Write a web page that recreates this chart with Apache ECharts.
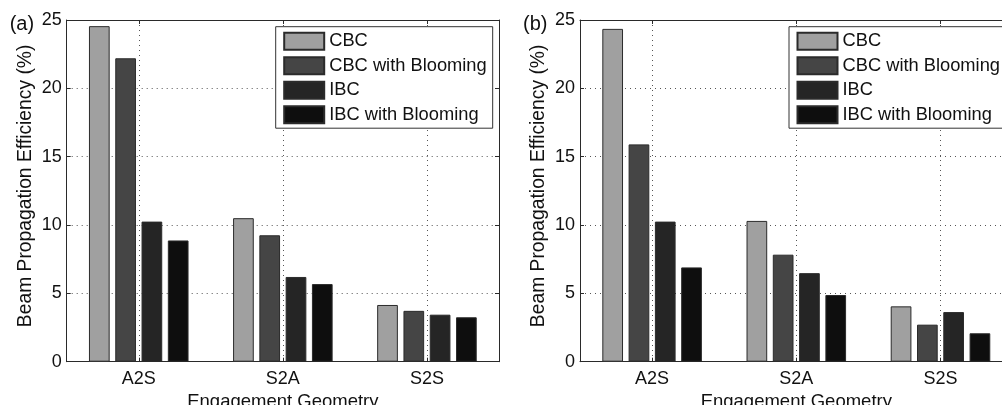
<!DOCTYPE html>
<html>
<head>
<meta charset="utf-8">
<script src="https://cdn.jsdelivr.net/npm/echarts@6/dist/echarts.min.js"></script>
<style>
html,body{margin:0;padding:0;background:#fff;}
#chart{width:1002px;height:405px;}
</style>
</head>
<body>
<div id="chart"></div>
<script>
var categories = ['A2S', 'S2A', 'S2S'];
var seriesNames = ['CBC', 'CBC with Blooming', 'IBC', 'IBC with Blooming'];
var panelLabels = ['(a)', '(b)'];
var yTitle = 'Beam Propagation Efficiency (%)';
var xTitle = 'Engagement Geometry';

// Panel (a)
var aCBC = [24.55, 10.5, 4.15];
var aCBCBloom = [22.2, 9.25, 3.72];
var aIBC = [10.25, 6.2, 3.44];
var aIBCBloom = [8.87, 5.68, 3.25];
// Panel (b)
var bCBC = [24.35, 10.3, 4.05];
var bCBCBloom = [15.9, 7.83, 2.71];
var bIBC = [10.25, 6.48, 3.63];
var bIBCBloom = [6.9, 4.88, 2.08];

var colors = ['#a0a0a0', '#454545', '#252525', '#0e0e0e'];
var FONT = "'Liberation Sans', Arial, Helvetica, sans-serif";
var TXT = '#111';
var AX = '#2a2a2a';

var panels = [
  [aCBC, aCBCBloom, aIBC, aIBCBloom],
  [bCBC, bCBCBloom, bIBC, bIBCBloom]
];
var grids = [
  {left: 66.7, top: 20, width: 432.3, height: 341.7, outerBoundsMode: 'none', containLabel: false},
  {left: 580, top: 20, width: 432.6, height: 341.7, outerBoundsMode: 'none', containLabel: false}
];

var xAxes = [], yAxes = [], series = [], legends = [], titles = [];
grids.forEach(function (g, gi) {
  xAxes.push({
    type: 'category', gridIndex: gi, data: categories, position: 'bottom',
    boundaryGap: true,
    axisLine: {show: true, lineStyle: {color: AX, width: 1}},
    axisTick: {show: true, inside: true, alignWithLabel: true, length: 4, lineStyle: {color: AX}},
    axisLabel: {color: TXT, fontSize: 18, fontFamily: FONT, margin: 8},
    splitLine: {show: true, alignWithLabel: true, lineStyle: {color: '#555', type: [1, 4], width: 1}},
    name: xTitle, nameLocation: 'middle', nameGap: 25,
    nameTextStyle: {color: TXT, fontSize: 18.5, fontFamily: FONT}
  });
  xAxes.push({
    type: 'category', gridIndex: gi, data: categories, position: 'top',
    boundaryGap: true,
    axisLine: {show: true, onZero: false, lineStyle: {color: AX, width: 1}},
    axisTick: {show: true, inside: true, alignWithLabel: true, length: 4, lineStyle: {color: AX}},
    axisLabel: {show: false},
    splitLine: {show: false}
  });
  yAxes.push({
    type: 'value', gridIndex: gi, min: 0, max: 25, interval: 5, position: 'left',
    axisLine: {show: true, lineStyle: {color: AX, width: 1}},
    axisTick: {show: true, inside: true, length: 4, lineStyle: {color: AX}},
    axisLabel: {color: TXT, fontSize: 18, fontFamily: FONT, margin: 5},
    splitLine: {show: true, lineStyle: {color: '#555', type: [1, 4], width: 1}},
    name: yTitle, nameLocation: 'middle', nameGap: 32, nameRotate: 90,
    nameTextStyle: {color: TXT, fontSize: 19.3, fontFamily: FONT, padding: [0, 0, 0, 10]}
  });
  yAxes.push({
    type: 'value', gridIndex: gi, min: 0, max: 25, interval: 5, position: 'right',
    axisLine: {show: true, onZero: false, lineStyle: {color: AX, width: 1}},
    axisTick: {show: true, inside: true, length: 4, lineStyle: {color: AX}},
    axisLabel: {show: false},
    splitLine: {show: false}
  });
  panels[gi].forEach(function (vals, si) {
    series.push({
      type: 'bar', name: seriesNames[si], data: vals,
      xAxisIndex: gi * 2, yAxisIndex: gi * 2,
      barWidth: 20.7, barGap: '27%',
      itemStyle: {color: colors[si], borderColor: '#2b2b2b', borderWidth: 1},
      emphasis: {disabled: true},
      z: 3
    });
  });
  legends.push({
    left: g.left + 209, top: 26.7, orient: 'vertical',
    data: seriesNames.map(function (n) { return {name: n, icon: 'rect'}; }),
    itemWidth: 40, itemHeight: 17, itemGap: 5.5,
    padding: [5, 6, 4, 7.5],
    backgroundColor: '#fff', borderColor: '#333', borderWidth: 1, borderRadius: 0,
    textStyle: {color: TXT, fontSize: 18.3, fontFamily: FONT, lineHeight: 17},
    selectedMode: false,
    z: 10
  });
  titles.push({
    text: panelLabels[gi], left: g.left - 57, top: 14,
    padding: 0,
    textStyle: {color: TXT, fontSize: 20, fontWeight: 'normal', fontFamily: FONT}
  });
});

var chart = echarts.init(document.getElementById('chart'), null, {renderer: 'canvas'});
chart.setOption({
  backgroundColor: '#fff',
  animation: false,
  title: titles,
  grid: grids,
  xAxis: xAxes,
  yAxis: yAxes,
  legend: legends,
  series: series
});
</script>
</body>
</html>
